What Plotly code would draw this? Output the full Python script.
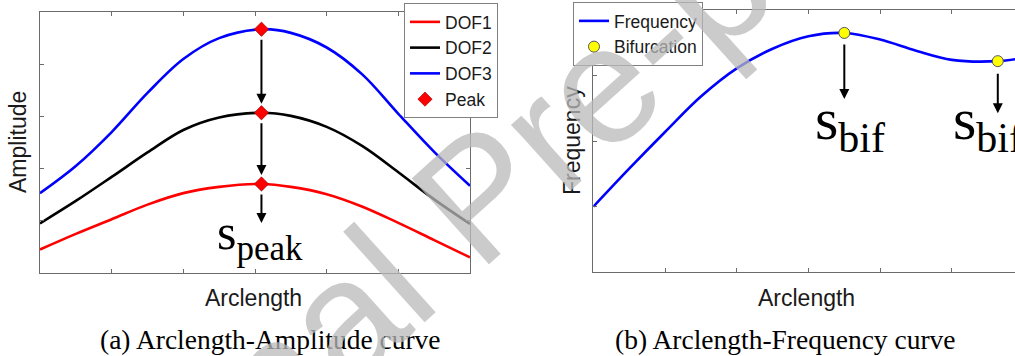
import plotly.graph_objects as go

W, H = 1015, 356

# ---- (a) arclength vs amplitude ----
arc = [0.0, 0.5, 1.0, 1.5, 2.0, 2.5, 3.09, 3.5, 4.0, 4.5, 5.0, 5.5, 6.0]
dof1 = [0.45, 0.75, 1.03, 1.31, 1.53, 1.65, 1.705, 1.65, 1.51, 1.27, 0.96, 0.63, 0.30]
dof2 = [0.95, 1.38, 1.84, 2.31, 2.74, 2.98, 3.07, 3.01, 2.80, 2.43, 1.93, 1.41, 0.94]
dof3 = [1.53, 2.05, 2.70, 3.45, 4.10, 4.50, 4.67, 4.60, 4.32, 3.80, 3.05, 2.32, 1.67]
peak_s = 3.09
peak_amp = [1.705, 3.07, 4.67]

# ---- (b) arclength vs frequency ----
arc_f = [0.0, 0.5, 1.0, 1.5, 2.0, 2.5, 3.0, 3.5, 4.0, 4.5, 5.0, 5.64, 6.0]
freq = [1.00, 1.58, 2.14, 2.68, 3.11, 3.41, 3.60, 3.65, 3.55, 3.38, 3.24, 3.22, 3.27]
bif_s = [3.5, 5.64]
bif_f = [3.65, 3.22]

SANS = "Liberation Sans, Arial, sans-serif"
SERIF = "Liberation Serif"
AXIS_GRAY = "#6b6b6b"
TEXT = "#1a1a1a"

# plot-area geometry in pixels (left, right, top, bottom)
LEFT_BOX = (40, 470, 12, 273)
RIGHT_BOX = (593.3, W, 10, 272.3)
LEFT_YMAX, RIGHT_YMAX = 5, 4


def px_x(p):
    return p / W


def px_y(p):
    return 1 - p / H


# pixels per data unit along y, used to size the pointer arrows
ppu_left = (LEFT_BOX[3] - LEFT_BOX[2]) / LEFT_YMAX
ppu_right = (RIGHT_BOX[3] - RIGHT_BOX[2]) / RIGHT_YMAX

fig = go.Figure()

for name, ys, col in [("DOF1", dof1, "#ff0000"), ("DOF2", dof2, "#000000"), ("DOF3", dof3, "#0000ff")]:
    fig.add_trace(go.Scatter(
        x=arc, y=ys, mode="lines", name=name,
        line=dict(color=col, width=2.6, shape="spline", smoothing=1.0),
        xaxis="x", yaxis="y", legend="legend",
    ))

fig.add_trace(go.Scatter(
    x=[peak_s] * len(peak_amp), y=peak_amp, mode="markers", name="Peak",
    marker=dict(symbol="diamond", size=11, color="#ff0000", line=dict(color="#8b0000", width=0.6)),
    xaxis="x", yaxis="y", legend="legend",
))

fig.add_trace(go.Scatter(
    x=arc_f, y=freq, mode="lines", name="Frequency",
    line=dict(color="#0000ff", width=2.6, shape="spline", smoothing=1.0),
    xaxis="x2", yaxis="y2", legend="legend2",
))
fig.add_trace(go.Scatter(
    x=bif_s, y=bif_f, mode="markers", name="Bifurcation",
    marker=dict(symbol="circle", size=11, color="#ffff00", line=dict(color="#555555", width=1)),
    xaxis="x2", yaxis="y2", legend="legend2",
))

axis_common = dict(
    showgrid=False, zeroline=False, showticklabels=False,
    ticks="inside", ticklen=4, tickwidth=1, tickcolor=AXIS_GRAY,
    showline=True, linecolor=AXIS_GRAY, linewidth=1,
    tick0=0, dtick=1,
)

annotations = []


def arrow(x, y_head, y_tail, xref, yref, standoff, startstandoff):
    return dict(
        x=x, y=y_head, ax=x, ay=y_tail, xref=xref, yref=yref, axref=xref, ayref=yref,
        text="", showarrow=True, arrowhead=2, arrowsize=1, arrowwidth=2,
        arrowcolor="black", standoff=standoff, startstandoff=startstandoff,
    )


# arrows linking the three amplitude peaks, then down to the label
annotations.append(arrow(peak_s, peak_amp[1], peak_amp[2], "x", "y", 9, 9))
annotations.append(arrow(peak_s, peak_amp[0], peak_amp[1], "x", "y", 9, 9))
annotations.append(arrow(peak_s, peak_amp[0] - 39 / ppu_left, peak_amp[0], "x", "y", 0, 9))
# arrows below the bifurcation points
annotations.append(arrow(bif_s[0], bif_f[0] - 66 / ppu_right, bif_f[0], "x2", "y2", 0, 10))
annotations.append(arrow(bif_s[1], bif_f[1] - 52 / ppu_right, bif_f[1], "x2", "y2", 0, 11))

# math labels
annotations.append(dict(
    x=px_x(215), y=px_y(236), xref="paper", yref="paper", xanchor="left", yanchor="middle",
    text="s<sub>peak</sub>", showarrow=False,
    font=dict(family=SERIF, size=50, color="black"),
))
for left in (813, 951):
    annotations.append(dict(
        x=px_x(left), y=px_y(124), xref="paper", yref="paper", xanchor="left", yanchor="middle",
        text="s<sub>bif</sub>", showarrow=False,
        font=dict(family=SERIF, size=60, color="black"),
    ))


def label(text, xp, yp, size, family, angle=0, color=TEXT):
    return dict(
        x=px_x(xp), y=px_y(yp), xref="paper", yref="paper", xanchor="center", yanchor="middle",
        text=text, textangle=angle, showarrow=False,
        font=dict(family=family, size=size, color=color),
    )


# axis titles
annotations += [
    label("Amplitude", 18, 142, 23, SANS, -90),
    label("Frequency", 572, 141, 23, SANS, -90),
    label("Arclength", 253.5, 298, 23, SANS),
    label("Arclength", 806.7, 298, 23, SANS),
]

# captions
annotations += [
    label("(a) Arclength-Amplitude curve", 270.5, 339, 27.5, SERIF, color="black"),
    label("(b) Arclength-Frequency curve", 785.5, 339, 27.5, SERIF, color="black"),
]

# watermark
annotations.append(label("Journal Pre-proof", 478, 196, 168, SANS, -42, "rgba(185,185,185,0.75)"))

legend_style = dict(
    font=dict(family=SANS, size=17.5, color=TEXT),
    bgcolor="white", bordercolor="#808080", borderwidth=1,
    xanchor="left", yanchor="top", traceorder="normal",
)

fig.update_layout(
    width=W, height=H,
    margin=dict(l=0, r=0, t=0, b=0, pad=0),
    paper_bgcolor="white", plot_bgcolor="white",
    xaxis=dict(domain=[px_x(LEFT_BOX[0]), px_x(LEFT_BOX[1])], range=[0, 6], anchor="y",
               mirror="ticks", **axis_common),
    yaxis=dict(domain=[px_y(LEFT_BOX[3]), px_y(LEFT_BOX[2])], range=[0, LEFT_YMAX], anchor="x",
               mirror="ticks", **axis_common),
    xaxis2=dict(domain=[px_x(RIGHT_BOX[0]), 1.0], range=[0, 5.88], anchor="y2",
                mirror="ticks", **axis_common),
    yaxis2=dict(domain=[px_y(RIGHT_BOX[3]), px_y(RIGHT_BOX[2])], range=[0, RIGHT_YMAX], anchor="x2",
                mirror=False, **axis_common),
    legend=dict(x=px_x(404), y=px_y(3), **legend_style),
    legend2=dict(x=px_x(573), y=px_y(2), **legend_style),
    annotations=annotations,
    showlegend=True,
)

fig.write_html("out.html")
